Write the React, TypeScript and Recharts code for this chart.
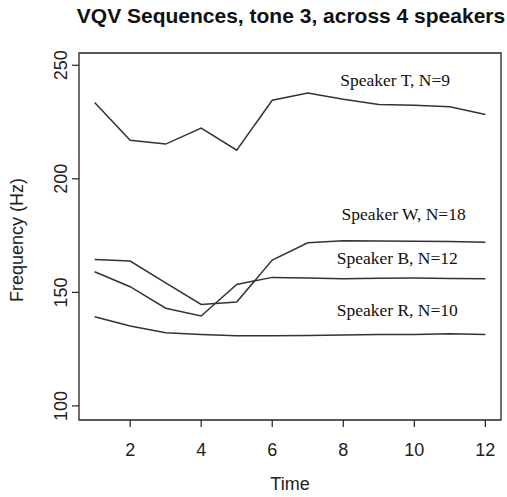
import React from "react";
import {
  LineChart,
  Line,
  XAxis,
  YAxis,
  ReferenceArea,
  ReferenceDot,
} from "recharts";

const TIME = [1, 2, 3, 4, 5, 6, 7, 8, 9, 10, 11, 12];
const SPEAKER_T = [233.6, 217, 215.3, 222.3, 212.6, 234.6, 237.8, 235, 232.7, 232.4, 231.7, 228.3];
const SPEAKER_W = [164.5, 163.8, 154.2, 144.7, 145.8, 164.2, 171.8, 172.7, 172.6, 172.5, 172.4, 172.1];
const SPEAKER_B = [159.1, 152.5, 143, 139.6, 153.5, 156.6, 156.3, 156, 156.2, 156.3, 156.1, 156];
const SPEAKER_R = [139.3, 135.2, 132.2, 131.5, 130.9, 130.9, 131, 131.2, 131.4, 131.5, 131.8, 131.4];

const X_TICKS = [2, 4, 6, 8, 10, 12];
const Y_TICKS = [100, 150, 200, 250];
const X_DOMAIN = [0.56, 12.44];
const Y_DOMAIN = [93.8, 255.4];

// series labels, anchored in data coordinates
const LABELS = [
  { text: "Speaker T, N=9", x: 9.46, y: 243.6 },
  { text: "Speaker W, N=18", x: 9.7, y: 184.7 },
  { text: "Speaker B, N=12", x: 9.52, y: 165.4 },
  { text: "Speaker R, N=10", x: 9.52, y: 142.3 },
];

const SERIES = [
  { key: "t", values: SPEAKER_T },
  { key: "w", values: SPEAKER_W },
  { key: "b", values: SPEAKER_B },
  { key: "r", values: SPEAKER_R },
];

const data = TIME.map((time, i) => {
  const row: Record<string, number> = { time };
  SERIES.forEach((s) => (row[s.key] = s.values[i]));
  return row;
});

const INK = "#222";
const SANS = "'Liberation Sans', Arial, sans-serif";
const SERIF = "'Liberation Serif', 'Times New Roman', serif";

function YTick(props: any) {
  const { x, y, payload } = props;
  return (
    <text
      x={x}
      y={y}
      transform={`rotate(-90, ${x}, ${y})`}
      textAnchor="middle"
      fontFamily={SANS}
      fontSize={18}
      fill={INK}
    >
      {payload.value}
    </text>
  );
}

export default function App() {
  return (
    <div style={{ position: "absolute", left: 0, top: 0, width: 507, height: 497, background: "#fff" }}>
      <div
        style={{
          position: "absolute",
          left: 0,
          top: 5,
          width: 582,
          textAlign: "center",
          fontFamily: SANS,
          fontWeight: "bold",
          fontSize: 21,
          lineHeight: "21px",
          color: "#111",
          whiteSpace: "nowrap",
        }}
      >
        VQV Sequences, tone 3, across 4 speakers
      </div>
      <LineChart
        width={507}
        height={497}
        data={data}
        margin={{ top: 53, right: 6, bottom: 0, left: 0 }}
        style={{ position: "absolute", left: 0, top: 0 }}
      >
        <XAxis
          dataKey="time"
          type="number"
          domain={X_DOMAIN}
          ticks={X_TICKS}
          allowDataOverflow
          height={77}
          axisLine={false}
          tickSize={7}
          tickMargin={16}
          tickLine={{ stroke: INK, strokeWidth: 1.2 }}
          tick={{ fontFamily: SANS, fontSize: 18, fill: INK }}
          label={{
            content: () => (
              <text x={290} y={490} textAnchor="middle" fontFamily={SANS} fontSize={18} fill={INK}>
                Time
              </text>
            ),
          }}
        />
        <YAxis
          type="number"
          domain={Y_DOMAIN}
          ticks={Y_TICKS}
          allowDataOverflow
          width={79}
          axisLine={false}
          tickSize={7}
          tickMargin={5}
          tickLine={{ stroke: INK, strokeWidth: 1.2 }}
          tick={<YTick />}
          label={{
            content: () => (
              <text
                x={23}
                y={240}
                transform="rotate(-90, 23, 240)"
                textAnchor="middle"
                fontFamily={SANS}
                fontSize={18}
                fill={INK}
              >
                Frequency (Hz)
              </text>
            ),
          }}
        />
        <ReferenceArea
          x1={X_DOMAIN[0]}
          x2={X_DOMAIN[1]}
          y1={Y_DOMAIN[0]}
          y2={Y_DOMAIN[1]}
          fill="none"
          stroke={INK}
          strokeWidth={1.3}
          fillOpacity={0}
        />
        {SERIES.map((s) => (
          <Line
            key={s.key}
            dataKey={s.key}
            type="linear"
            stroke="#333"
            strokeWidth={1.5}
            dot={false}
            isAnimationActive={false}
          />
        ))}
        {LABELS.map((l) => (
          <ReferenceDot
            key={l.text}
            x={l.x}
            y={l.y}
            r={0}
            fill="none"
            stroke="none"
            label={{ value: l.text, fontFamily: SERIF, fontSize: 17.5, fill: "#111", position: "center" }}
          />
        ))}
      </LineChart>
    </div>
  );
}
